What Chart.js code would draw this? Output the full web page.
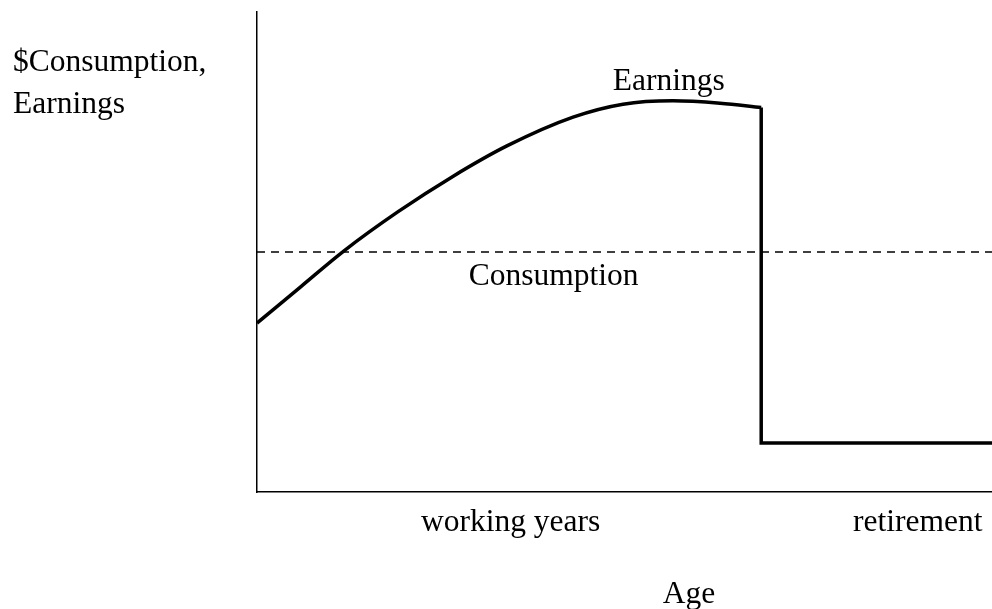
<!DOCTYPE html>
<html>
<head>
<meta charset="utf-8">
<title>Life-cycle earnings and consumption</title>
<script src="https://cdn.jsdelivr.net/npm/chart.js@4.4.1/dist/chart.umd.min.js"></script>
<style>
    html, body { margin: 0; padding: 0; background: #fff; }
    canvas { display: block; }
</style>
</head>
<body>
<canvas id="lifecycle-chart" width="992" height="609"></canvas>
<script>
// Schematic values (both axes 0-100, no units)
const earningsAge = [0, 5.9, 11.8, 19.2, 26.7, 34, 43, 49.8, 56.6, 63, 68.6];
const earningsValue = [35.2, 42.7, 50.2, 58.4, 65.8, 72.1, 78.1, 80.8, 81.5, 81.0, 80.1];
const retirementAge = [68.6, 68.6, 100];
const retirementValue = [80.1, 10.2, 10.2];
const consumptionAge = [0, 100];
const consumptionValue = [50, 50];

const yAxisTitle = ['$Consumption,', 'Earnings'];
const ageTitle = 'Age';
const phaseLabels = ['working years', 'retirement'];

const FONT = '31.5px "Liberation Serif", "Times New Roman", serif';

const toPoints = (xs, ys) => xs.map((x, i) => ({ x: x, y: ys[i] }));

// text annotations, placed in data units so they follow the scales
const annotations = [
    { text: 'Earnings', x: 48.4, y: 83.75 },
    { text: 'Consumption', x: 28.8, y: 43.1 },
    { text: phaseLabels[0], x: 22.3, y: -8.1 },
    { text: phaseLabels[1], x: 81.1, y: -8.1 },
    { text: ageTitle, x: 55.2, y: -23.1 },
    { text: yAxisTitle[0], x: -33.2, y: 87.7 },
    { text: yAxisTitle[1], x: -33.2, y: 79 }
];

const textPlugin = {
    id: 'textLabels',
    afterDraw(chart) {
        const ctx = chart.ctx;
        const xScale = chart.scales.x;
        const yScale = chart.scales.y;
        ctx.save();
        ctx.font = FONT;
        ctx.fillStyle = '#000';
        ctx.textAlign = 'left';
        ctx.textBaseline = 'alphabetic';
        annotations.forEach(a => {
            ctx.fillText(a.text, xScale.getPixelForValue(a.x), yScale.getPixelForValue(a.y));
        });
        ctx.restore();
    }
};

const ctx = document.getElementById('lifecycle-chart').getContext('2d');
new Chart(ctx, {
    type: 'line',
    data: {
        datasets: [
            {
                label: 'Earnings',
                data: toPoints(earningsAge, earningsValue),
                borderColor: '#000',
                borderWidth: 3.5,
                pointRadius: 0,
                cubicInterpolationMode: 'monotone',
                fill: false
            },
            {
                label: 'Retirement earnings',
                data: toPoints(retirementAge, retirementValue),
                borderColor: '#000',
                borderWidth: 3.5,
                borderJoinStyle: 'miter',
                pointRadius: 0,
                tension: 0,
                fill: false
            },
            {
                label: 'Consumption',
                data: toPoints(consumptionAge, consumptionValue),
                borderColor: '#000',
                borderWidth: 1.5,
                borderDash: [8, 6],
                pointRadius: 0,
                tension: 0,
                fill: false
            }
        ]
    },
    options: {
        responsive: false,
        animation: false,
        layout: {
            padding: { left: 257, right: 0, top: 12, bottom: 117 }
        },
        scales: {
            x: {
                type: 'linear',
                min: 0,
                max: 100,
                grid: { display: false, drawTicks: false },
                ticks: { display: false },
                border: { display: true, color: '#000', width: 1.5 }
            },
            y: {
                type: 'linear',
                min: 0,
                max: 100,
                grid: { display: false, drawTicks: false },
                ticks: { display: false },
                border: { display: true, color: '#000', width: 1.5 }
            }
        },
        plugins: {
            legend: { display: false },
            tooltip: { enabled: false }
        }
    },
    plugins: [textPlugin]
});
</script>
</body>
</html>
